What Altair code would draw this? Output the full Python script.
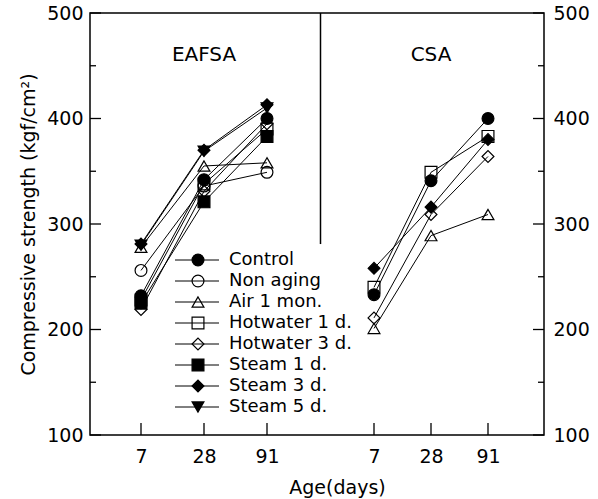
import json
import altair as alt
import pandas as pd

# ---------------- data ----------------
ages = ["7", "28", "91"]
panels = ["EAFSA", "CSA"]
series = ["Control", "Non aging", "Air 1 mon.", "Hotwater 1 d.", "Hotwater 3 d.",
          "Steam 1 d.", "Steam 3 d.", "Steam 5 d."]
shapes = ["circle", "circle", "triangle-up", "square", "diamond",
          "square", "diamond", "triangle-down"]
fills = ["black", "transparent", "transparent", "transparent", "transparent",
         "black", "black", "black"]

# EAFSA panel (7, 28, 91 days)
eafsa_control = [232, 342, 400]
eafsa_non_aging = [256, 336, 349]
eafsa_air_1mon = [278, 355, 358]
eafsa_hotwater_1d = [228, 338, 390]
eafsa_hotwater_3d = [219, 331, 395]
eafsa_steam_1d = [225, 321, 383]
eafsa_steam_3d = [281, 370, 413]
eafsa_steam_5d = [280, 369, 410]

# CSA panel (7, 28, 91 days)
csa_control = [233, 341, 400]
csa_air_1mon = [201, 289, 309]
csa_hotwater_1d = [240, 349, 383]
csa_hotwater_3d = [211, 309, 364]
csa_steam_3d = [258, 316, 380]

y_ticks = [100, 150, 200, 250, 300, 350, 400, 450, 500]
y_labels = [100, 200, 300, 400, 500]
divider_top = 500
divider_bottom = 281

panel_series = {
    "EAFSA": {
        "Control": eafsa_control, "Non aging": eafsa_non_aging,
        "Air 1 mon.": eafsa_air_1mon, "Hotwater 1 d.": eafsa_hotwater_1d,
        "Hotwater 3 d.": eafsa_hotwater_3d, "Steam 1 d.": eafsa_steam_1d,
        "Steam 3 d.": eafsa_steam_3d, "Steam 5 d.": eafsa_steam_5d,
    },
    "CSA": {
        "Control": csa_control, "Air 1 mon.": csa_air_1mon,
        "Hotwater 1 d.": csa_hotwater_1d, "Hotwater 3 d.": csa_hotwater_3d,
        "Steam 3 d.": csa_steam_3d,
    },
}

rows = []
for pi, p in enumerate(panels):
    for s, vals in panel_series[p].items():
        for ai, v in enumerate(vals):
            rows.append({"panel": p, "series": s, "age": ages[ai],
                         "pos": pi * 4 + ai + 1, "value": v})
df = pd.DataFrame(rows)

tick_pos = [pi * 4 + ai + 1 for pi in range(len(panels)) for ai in range(len(ages))]
xticks_df = pd.DataFrame({"pos": tick_pos})
yticks_df = pd.DataFrame({"v": y_ticks})
panel_df = pd.DataFrame({"panel": panels, "pos": [2, 6]})
legend_df = pd.DataFrame({"series": series})

# ---------------- layout ----------------
W, H = 454, 422
FONT = "DejaVu Sans"

pos_labels = ages + [""] + ages
label_expr = json.dumps(pos_labels) + "[datum.value - 1]"

xscale = alt.Scale(domain=[0, 1, 3, 5, 7, 8], range=[0, 51, 177, 284, 398, 454], nice=False, zero=False)
yscale = alt.Scale(domain=[100, 500], nice=False, zero=False)

xaxis = alt.Axis(values=tick_pos, labelExpr=label_expr, ticks=False, domain=False, grid=False,
                 labelPadding=12, labelFontSize=19, title="Age(days)", titleFontSize=19,
                 titleFontWeight="normal", titleX=247, titleY=52, titleBaseline="middle")

shape_scale = alt.Scale(domain=series, range=shapes)
fill_scale = alt.Scale(domain=series, range=fills)

X = alt.X("pos:Q", scale=xscale, axis=xaxis)

lines = alt.Chart(df).mark_line(color="black", strokeWidth=1).encode(
    x=X,
    y=alt.Y("value:Q", scale=yscale, axis=None),
    detail=["panel:N", "series:N"],
)

points = alt.Chart(df).mark_point(filled=True, stroke="black", strokeWidth=1.2, size=140, opacity=1).encode(
    x=X,
    y=alt.Y("value:Q", scale=yscale,
            axis=alt.Axis(orient="left", values=y_labels, ticks=False, domain=False, grid=False,
                          labelPadding=7, labelFontSize=19,
                          title="Compressive strength (kgf/cm²)", titleFontSize=19,
                          titleFontWeight="normal", titleX=-62, titleBaseline="middle")),
    shape=alt.Shape("series:N", scale=shape_scale, legend=None),
    fill=alt.Fill("series:N", scale=fill_scale, legend=None),
)

right_axis = alt.Chart(df).mark_point(opacity=0).encode(
    x=X,
    y=alt.Y("value:Q", scale=yscale,
            axis=alt.Axis(orient="right", values=y_labels, ticks=False, domain=False, grid=False,
                          labelPadding=9, labelFontSize=19, title=None)),
)

YT = alt.Y("v:Q", scale=yscale, axis=None)
major = "datum.v % 100 == 0"
minor = "datum.v % 100 != 0"
ytick_l_major = alt.Chart(yticks_df).mark_rule(color="black", strokeWidth=1.3).encode(
    y=YT, x=alt.value(0), x2=alt.value(11)).transform_filter(major)
ytick_l_minor = alt.Chart(yticks_df).mark_rule(color="black", strokeWidth=1.3).encode(
    y=YT, x=alt.value(0), x2=alt.value(6)).transform_filter(minor)
ytick_r_major = alt.Chart(yticks_df).mark_rule(color="black", strokeWidth=1.3).encode(
    y=YT, x=alt.value(W - 11), x2=alt.value(W)).transform_filter(major)
ytick_r_minor = alt.Chart(yticks_df).mark_rule(color="black", strokeWidth=1.3).encode(
    y=YT, x=alt.value(W - 6), x2=alt.value(W)).transform_filter(minor)

xticks = alt.Chart(xticks_df).mark_rule(color="black", strokeWidth=1.3).encode(
    x=X, y=alt.value(H - 12), y2=alt.value(H))

divider = alt.Chart(pd.DataFrame({"top": [divider_top], "bottom": [divider_bottom], "pos": [4]})).mark_rule(
    color="black", strokeWidth=1.5).encode(
    x=X,
    y=alt.Y("top:Q", scale=yscale, axis=None),
    y2="bottom:Q",
)

panel_text = alt.Chart(panel_df).mark_text(fontSize=20, font=FONT, color="black", baseline="middle").encode(
    x=X, y=alt.value(42), text="panel:N")

LY = alt.Y("series:N", sort=series,
           scale=alt.Scale(type="point", domain=series, range=[247, 394], padding=0), axis=None)
leg_rule = alt.Chart(legend_df).mark_rule(color="black", strokeWidth=1).encode(
    y=LY, x=alt.value(85), x2=alt.value(129))
leg_point = alt.Chart(legend_df).mark_point(filled=True, stroke="black", strokeWidth=1.2, size=140, opacity=1).encode(
    y=LY, x=alt.value(108),
    shape=alt.Shape("series:N", scale=shape_scale, legend=None),
    fill=alt.Fill("series:N", scale=fill_scale, legend=None),
)
leg_text = alt.Chart(legend_df).mark_text(align="left", baseline="middle", fontSize=18, font=FONT,
                                          color="black").encode(
    y=LY, x=alt.value(139), text="series:N")

chart = alt.layer(
    lines, points, right_axis,
    ytick_l_major, ytick_l_minor, ytick_r_major, ytick_r_minor, xticks,
    divider, panel_text,
    leg_rule, leg_point, leg_text,
).resolve_scale(y="independent").properties(
    width=W, height=H,
    autosize=alt.AutoSizeParams(type="none"),
    padding={"left": 90, "top": 13, "right": 54, "bottom": 64},
    background="white",
).configure_view(stroke="black", strokeWidth=1.5).configure_axis(
    labelFont=FONT, titleFont=FONT, labelColor="black", titleColor="black"
)

chart.save("out.html", embed_options={"renderer": "svg", "actions": False})
